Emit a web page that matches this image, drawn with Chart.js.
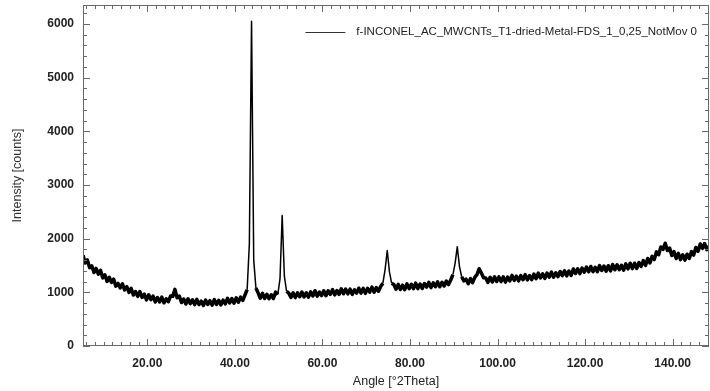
<!DOCTYPE html>
<html>
<head>
<meta charset="utf-8">
<script src="https://cdn.jsdelivr.net/npm/chart.js@4/dist/chart.umd.min.js"></script>
<style>
  html, body { margin: 0; padding: 0; background: #fff; }
  #wrap { width: 710px; height: 391px; position: relative; }
</style>
</head>
<body>
<div id="wrap"><canvas id="xrd" width="710" height="391"></canvas></div>
<script>
// Scan settings (°2Theta): first angle and step between measured points
const scanStart = 5.3;
const scanStep = 0.5;

// Measured intensities [counts], one per step from scanStart
const counts = [
  1690,1545,1605,1460,1495,1370,1445,1340,1410,1270,
  1325,1205,1280,1185,1245,1115,1165,1080,1160,1045,
  1105,1000,1075,950,1015,925,1015,905,965,860,
  955,865,930,820,903,820,910,805,880,825,
  930,925,1055,900,930,810,875,782,880,790,
  860,772,870,773,836,755,854,774,845,761,
  863,775,853,766,855,784,888,803,883,798,
  898,815,910,850,950,1050,1900,6050,1600,1080,
  990,890,980,885,963,880,955,885,1005,960,
  1250,2430,1300,1020,985,905,990,902,990,918,
  1005,913,991,910,1008,931,1030,928,1006,940,
  1028,936,1029,962,1050,953,1035,963,1065,973,
  1060,972,1059,961,1048,985,1077,985,1073,981,
  1074,1003,1097,1002,1088,1020,1110,1170,1420,1780,
  1380,1170,1145,1058,1147,1052,1133,1050,1157,1069,
  1151,1069,1172,1070,1153,1071,1164,1097,1185,1088,
  1176,1105,1194,1103,1188,1118,1210,1145,1230,1330,
  1540,1850,1480,1290,1215,1245,1160,1255,1180,1280,
  1330,1440,1360,1270,1267,1185,1280,1192,1289,1201,
  1288,1200,1288,1191,1284,1212,1315,1223,1301,1214,
  1312,1235,1329,1233,1312,1236,1340,1254,1358,1267,
  1346,1260,1359,1283,1377,1281,1365,1294,1388,1312,
  1402,1307,1398,1315,1435,1350,1440,1348,1450,1376,
  1470,1384,1482,1385,1468,1386,1499,1407,1490,1393,
  1496,1399,1517,1420,1513,1421,1504,1412,1530,1438,
  1542,1441,1542,1445,1555,1482,1591,1502,1630,1547,
  1670,1610,1755,1700,1845,1800,1915,1780,1825,1685,
  1760,1630,1725,1610,1700,1600,1710,1630,1760,1695,
  1835,1765,1900,1820,1910,1795,1860
];

const seriesName = 'f-INCONEL_AC_MWCNTs_T1-dried-Metal-FDS_1_0,25_NotMov 0';

// Axis ranges and tick values
const angleRange = [5.3, 148.3];
const countRange = [0, 6354];
const angleTicks = [20, 40, 60, 80, 100, 120, 140];
const countTicks = [0, 1000, 2000, 3000, 4000, 5000, 6000];
const angleMinorStep = 2;
const countMinorStep = 200;

const points = counts.map((c, i) => ({ x: +(scanStart + i * scanStep).toFixed(2), y: c }));

const FRAME = '#6a6a6a';
const LABEL_FONT = { family: 'Liberation Sans, Arial, sans-serif', size: 12, weight: 'bold' };
const TITLE_FONT = { family: 'Liberation Sans, Arial, sans-serif', size: 12.5 };

// Steep flanks of the reflections are drawn thin; the noisy background trace is heavier
const segmentWidth = ctx => Math.abs(ctx.p1.parsed.y - ctx.p0.parsed.y) > 180 ? 1.5 : 3.5;

// Box frame with inward tick marks on all four sides, plus the in-plot legend
const framePlugin = {
  id: 'frameTicks',
  afterDatasetsDraw(chart) {
    const { ctx, chartArea: a, scales } = chart;
    const xs = scales.x, ys = scales.y;
    ctx.save();
    ctx.strokeStyle = FRAME;
    ctx.lineWidth = 1;
    ctx.strokeRect(a.left + 0.5, a.top + 0.5, a.right - a.left - 1, a.bottom - a.top - 1);
    ctx.beginPath();
    // angle ticks, bottom and top
    for (let v = Math.ceil(angleRange[0] / angleMinorStep) * angleMinorStep; v <= angleRange[1]; v += angleMinorStep) {
      const px = Math.round(xs.getPixelForValue(v)) + 0.5;
      const len = angleTicks.includes(v) ? 7 : 4;
      ctx.moveTo(px, a.bottom); ctx.lineTo(px, a.bottom - len);
      ctx.moveTo(px, a.top); ctx.lineTo(px, a.top + len);
    }
    // count ticks, left and right
    for (let v = countRange[0]; v <= countRange[1]; v += countMinorStep) {
      const py = Math.round(ys.getPixelForValue(v)) + 0.5;
      const len = countTicks.includes(v) ? 7 : 4;
      ctx.moveTo(a.left, py); ctx.lineTo(a.left + len, py);
      ctx.moveTo(a.right, py); ctx.lineTo(a.right - len, py);
    }
    ctx.stroke();

    // legend entry
    const ds = chart.data.datasets[0];
    ctx.font = '11.5px "Liberation Sans", Arial, sans-serif';
    ctx.fillStyle = '#222';
    ctx.textBaseline = 'middle';
    ctx.textAlign = 'right';
    const ty = a.top + 27;
    const tx = a.right - 12;
    ctx.fillText(ds.label, tx, ty);
    const w = ctx.measureText(ds.label).width;
    ctx.strokeStyle = '#333';
    ctx.lineWidth = 1;
    ctx.beginPath();
    ctx.moveTo(tx - w - 11, ty + 0.5);
    ctx.lineTo(tx - w - 51, ty + 0.5);
    ctx.stroke();
    ctx.restore();
  }
};

new Chart(document.getElementById('xrd'), {
  type: 'line',
  data: {
    datasets: [{
      label: seriesName,
      data: points,
      borderColor: '#000',
      borderWidth: 3.5,
      borderJoinStyle: 'round',
      pointRadius: 0,
      tension: 0,
      fill: false,
      segment: { borderWidth: segmentWidth }
    }]
  },
  options: {
    responsive: false,
    animation: false,
    layout: { padding: { top: 5, right: 1, left: 0, bottom: 0 } },
    plugins: { legend: { display: false }, tooltip: { enabled: false } },
    scales: {
      x: {
        type: 'linear',
        min: angleRange[0],
        max: angleRange[1],
        grid: { display: false, drawTicks: false },
        border: { display: false },
        afterBuildTicks: s => { s.ticks = angleTicks.map(v => ({ value: v })); },
        afterFit: s => { s.height = 45; s.paddingLeft = 0; s.paddingRight = 0; },
        ticks: { color: '#222', font: LABEL_FONT, padding: 10, maxRotation: 0, callback: v => Number(v).toFixed(2) },
        title: { display: true, text: 'Angle [°2Theta]', color: '#222', font: TITLE_FONT, padding: { top: 0, bottom: 2 } }
      },
      y: {
        min: countRange[0],
        max: countRange[1],
        grid: { display: false, drawTicks: false },
        border: { display: false },
        afterBuildTicks: s => { s.ticks = countTicks.map(v => ({ value: v })); },
        afterFit: s => { s.width = 83; s.paddingTop = 0; s.paddingBottom = 0; },
        ticks: { color: '#222', font: LABEL_FONT, padding: 9, callback: v => String(v) },
        title: { display: true, text: 'Intensity [counts]', color: '#333', font: TITLE_FONT, padding: { top: 10, bottom: 0 } }
      }
    }
  },
  plugins: [framePlugin]
});
</script>
</body>
</html>
